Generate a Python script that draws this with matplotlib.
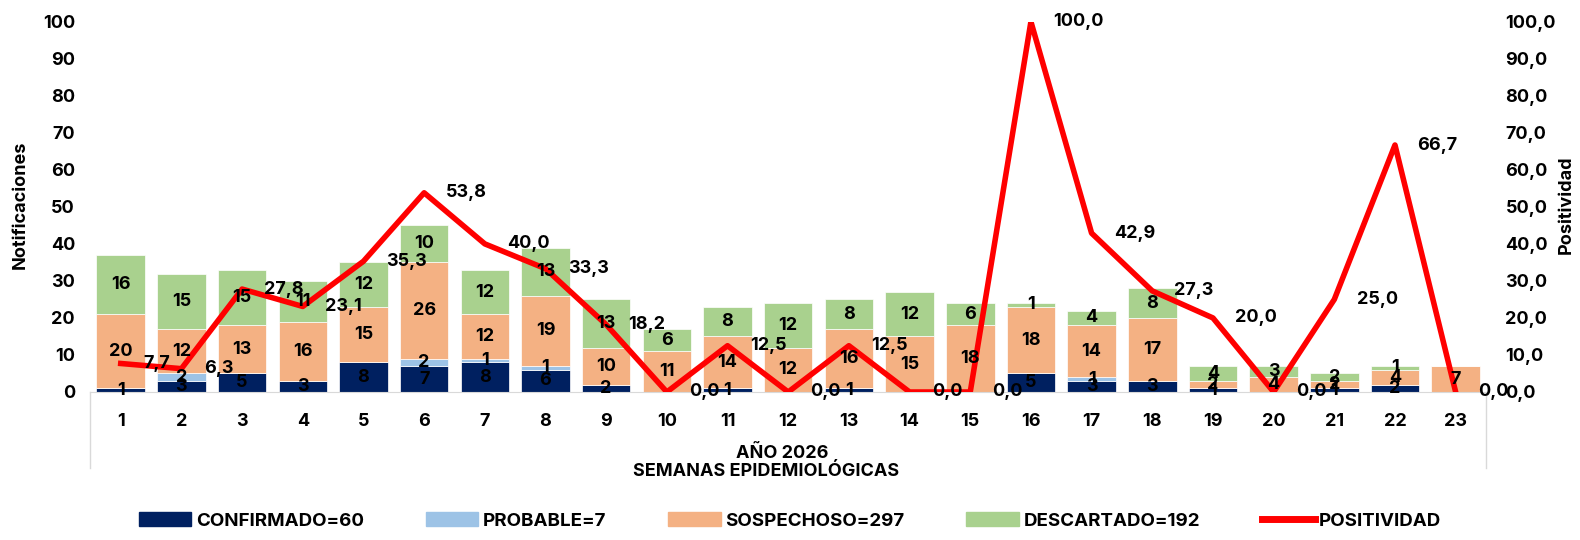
import matplotlib
matplotlib.use("Agg")
import matplotlib.pyplot as plt
from matplotlib.patches import Patch
from matplotlib.lines import Line2D

plt.rcParams['font.family'] = ['Inter', 'DejaVu Sans']
plt.rcParams['font.weight'] = 'bold'

semanas = [str(i) for i in range(1, 24)]
confirmado = [1, 3, 5, 3, 8, 7, 8, 6, 2, 0, 1, 0, 1, 0, 0, 5, 3, 3, 1, 0, 1, 2, 0]
probable = [0, 2, 0, 0, 0, 2, 1, 1, 0, 0, 0, 0, 0, 0, 0, 0, 1, 0, 0, 0, 0, 0, 0]
sospechoso = [20, 12, 13, 16, 15, 26, 12, 19, 10, 11, 14, 12, 16, 15, 18, 18, 14, 17, 2, 4, 2, 4, 7]
descartado = [16, 15, 15, 11, 12, 10, 12, 13, 13, 6, 8, 12, 8, 12, 6, 1, 4, 8, 4, 3, 2, 1, 0]
positividad = [7.7, 6.3, 27.8, 23.1, 35.3, 53.8, 40.0, 33.3, 18.2, 0.0, 12.5, 0.0, 12.5,
               0.0, 0.0, 100.0, 42.9, 27.3, 20.0, 0.0, 25.0, 66.7, 0.0]

series = [
    ("CONFIRMADO=60", confirmado, "#002060"),
    ("PROBABLE=7", probable, "#9DC3E6"),
    ("SOSPECHOSO=297", sospechoso, "#F4B183"),
    ("DESCARTADO=192", descartado, "#A9D18E"),
]

fig = plt.figure(figsize=(15.8, 5.4), dpi=100)

ax = fig.add_axes([90.4 / 1580, 1 - 392 / 540, (1486 - 90.4) / 1580, (392 - 21.7) / 540])
ax2 = ax.twinx()

x = list(range(1, 24))
bottom = [0] * 23
for name, vals, col in series:
    ax.bar(x, vals, 0.8, bottom=bottom, color=col, edgecolor="white", linewidth=0.5)
    for i, v in enumerate(vals):
        if v > 0:
            ax2.text(x[i], bottom[i] + v / 2, str(v), ha="center", va="center",
                     fontsize=13, color="black", zorder=5)
    bottom = [b + v for b, v in zip(bottom, vals)]

ax2.plot(x, positividad, color="#FF0000", linewidth=4, zorder=3)
for i, p in enumerate(positividad):
    ax2.annotate(f"{p:.1f}".replace(".", ","), (x[i], p), xytext=(16, 0),
                 textcoords="offset points", ha="left", va="center",
                 fontsize=13, color="black", zorder=5)

for a in (ax, ax2):
    a.set_xlim(0.5, 23.5)
    a.set_ylim(0, 100)
    for s in a.spines.values():
        s.set_visible(False)

ax.spines['bottom'].set_visible(True)
ax.spines['bottom'].set_color("#d9d9d9")
ax.set_yticks(range(0, 101, 10))
ax.tick_params(axis='y', length=0, pad=11, labelsize=13)
ax.set_xticks(x)
ax.set_xticklabels(semanas)
ax.tick_params(axis='x', length=0, pad=15, labelsize=13)
ax2.set_yticks(range(0, 101, 10))
ax2.set_yticklabels([f"{v},0" for v in range(0, 101, 10)])
ax2.tick_params(axis='y', length=0, pad=14, labelsize=13)

# category box lines below axis
for xx in (0, 1):
    ax.plot([xx, xx], [0, -76 / 370.3], transform=ax.transAxes, color="#d9d9d9",
            linewidth=1, clip_on=False)

fig.text(782 / 1580, 1 - 453 / 540, "AÑO 2026", ha="center", va="center", fontsize=13)
fig.text(766 / 1580, 1 - 472 / 540, "SEMANAS EPIDEMIOLÓGICAS", ha="center", va="center", fontsize=13)
fig.text(20 / 1580, 1 - 205 / 540, "Notificaciones", rotation=90, ha="center", va="center", fontsize=13)
fig.text(1566 / 1580, 1 - 205 / 540, "Positividad", rotation=90, ha="center", va="center", fontsize=13)

handles = [Patch(color=c) for _, _, c in series] + [Line2D([0], [0], color="#FF0000", linewidth=5)]
labels = [n for n, _, _ in series] + ["POSITIVIDAD"]
fig.legend(handles, labels, loc="lower center", bbox_to_anchor=(0.5, -0.012), ncol=5,
           frameon=False, fontsize=13.5, handlelength=2.8, handleheight=0.7,
           handletextpad=0.25, columnspacing=3.3)

fig.savefig("out.png", dpi=100)
